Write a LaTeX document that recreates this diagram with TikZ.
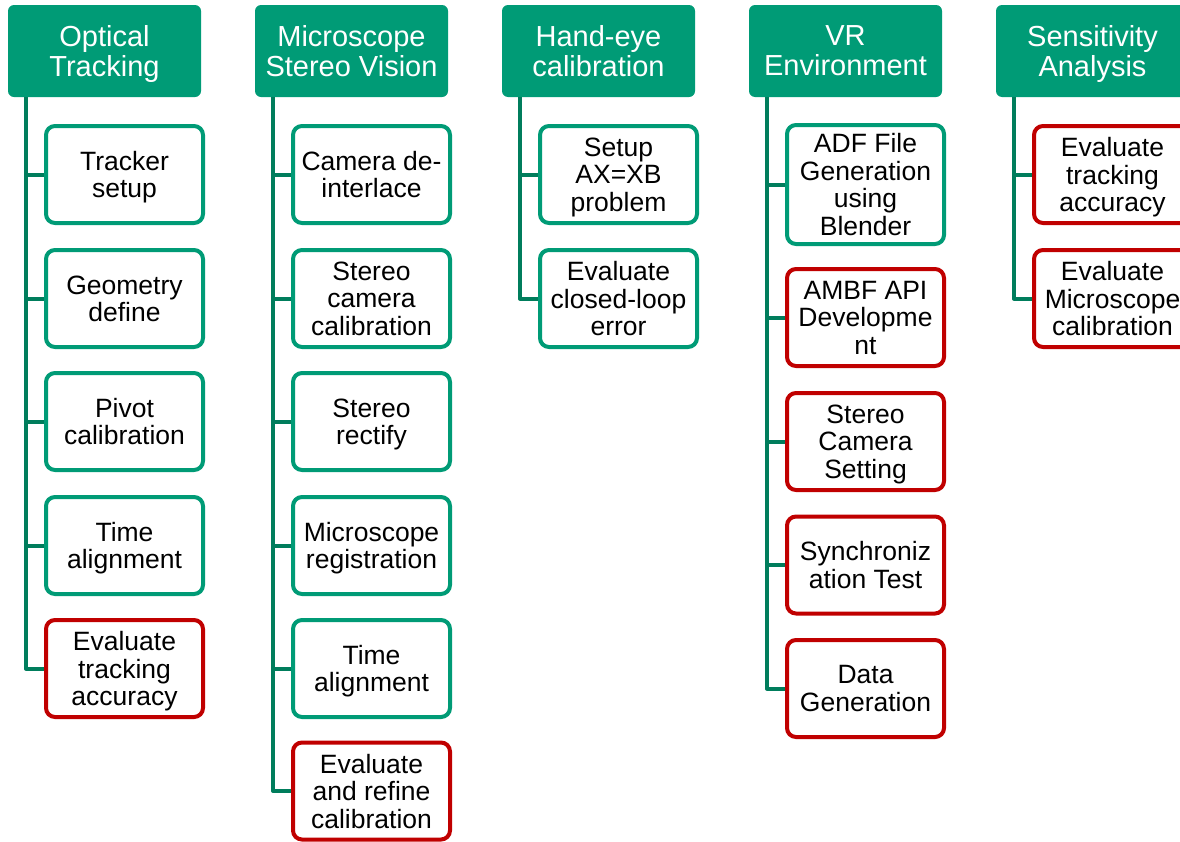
\documentclass[tikz,border=0pt]{standalone}
\usepackage{fontspec}
\setmainfont{Liberation Sans}
\usetikzlibrary{calc}
\definecolor{hdrgreen}{RGB}{0,155,118}
\definecolor{trunkgreen}{RGB}{0,125,92}
\definecolor{todored}{RGB}{192,0,0}
% last line of a label: keep its descenders out of the vertical centring
\newcommand{\lastln}[1]{\raisebox{0pt}[\height][0pt]{#1}}
\tikzset{
  header/.style={fill=hdrgreen, text=white, rounded corners=6pt,
    minimum width=193pt, minimum height=92pt, inner sep=0pt, align=center,
    font=\fontsize{29}{30}\selectfont},
  task/.style={draw=hdrgreen, fill=white, line width=4pt, rounded corners=9pt,
    minimum width=157pt, minimum height=97pt, inner sep=0pt, align=center,
    text=black, font=\fontsize{26.5}{27.5}\selectfont},
  pending/.style={task, draw=todored},
  tree/.style={draw=trunkgreen, line width=4pt, line join=round}
}
\begin{document}
\begin{tikzpicture}[x=1pt,y=-1pt]
\useasboundingbox (0,0) rectangle (1180,841);
\clip (0,0) rectangle (1180,841);

% headers
\node[header] (h1) at (104.5,51) {Optical\\\lastln{Tracking}};
\node[header] (h2) at (351.5,51) {Microscope\\\lastln{Stereo Vision}};
\node[header] (h3) at (598.5,51) {Hand-eye\\\lastln{calibration}};
\node[header] (h4) at (845.5,51) {VR\\\lastln{Environment}};
\node[header] (h5) at (1092.5,51) {Sensitivity\\\lastln{Analysis}};

% trunk tops
\coordinate (t1) at ($(h1.south)+(-78.5,0)$);
\coordinate (t2) at ($(h2.south)+(-78.5,0)$);
\coordinate (t3) at ($(h3.south)+(-78.5,0)$);
\coordinate (t4) at ($(h4.south)+(-78.5,0)$);
\coordinate (t5) at ($(h5.south)+(-78.5,0)$);

% Optical Tracking
\node[task]    (a1) at (124.5,174.5) {Tracker\\\lastln{setup}};
\node[task]    (a2) at (124.5,298.5) {Geometry\\\lastln{define}};
\node[task]    (a3) at (124.5,421.5) {Pivot\\\lastln{calibration}};
\node[task]    (a4) at (124.5,545.5) {Time\\\lastln{alignment}};
\node[pending] (a5) at (124.5,668.5) {Evaluate\\tracking\\\lastln{accuracy}};

% Microscope Stereo Vision
\node[task]    (b1) at (371.5,174.5) {Camera de-\\\lastln{interlace}};
\node[task]    (b2) at (371.5,298.5) {Stereo\\camera\\\lastln{calibration}};
\node[task]    (b3) at (371.5,421.5) {Stereo\\\lastln{rectify}};
\node[task]    (b4) at (371.5,545.5) {Microscope\\\lastln{registration}};
\node[task]    (b5) at (371.5,668.5) {Time\\\lastln{alignment}};
\node[pending] (b6) at (371.5,791)   {Evaluate\\and refine\\\lastln{calibration}};

% Hand-eye calibration
\node[task]    (c1) at (618.5,174.5) {Setup\\AX=XB\\\lastln{problem}};
\node[task]    (c2) at (618.5,298.5) {Evaluate\\closed-loop\\\lastln{error}};

% VR Environment
\node[task, minimum height=119pt] (d1) at (865.5,184.5) {ADF File\\Generation\\using\\\lastln{Blender}};
\node[pending] (d2) at (865.5,317.5) {AMBF API\\Developme\\\lastln{nt}};
\node[pending] (d3) at (865.5,441.5) {Stereo\\Camera\\\lastln{Setting}};
\node[pending] (d4) at (865.5,565)   {Synchroniz\\\lastln{ation Test}};
\node[pending] (d5) at (865.5,688.5) {Data\\\lastln{Generation}};

% Sensitivity Analysis
\node[pending] (e1) at (1112.5,174.5) {Evaluate\\tracking\\\lastln{accuracy}};
\node[pending] (e2) at (1112.5,298.5) {Evaluate\\Microscope\\\lastln{calibration}};

% tree connectors
\foreach \n in {a1,a2,a3,a4,a5} \draw[tree] (t1) |- (\n.west);
\foreach \n in {b1,b2,b3,b4,b5,b6} \draw[tree] (t2) |- (\n.west);
\foreach \n in {c1,c2} \draw[tree] (t3) |- (\n.west);
\foreach \n in {d1,d2,d3,d4,d5} \draw[tree] (t4) |- (\n.west);
\foreach \n in {e1,e2} \draw[tree] (t5) |- (\n.west);
\end{tikzpicture}
\end{document}
